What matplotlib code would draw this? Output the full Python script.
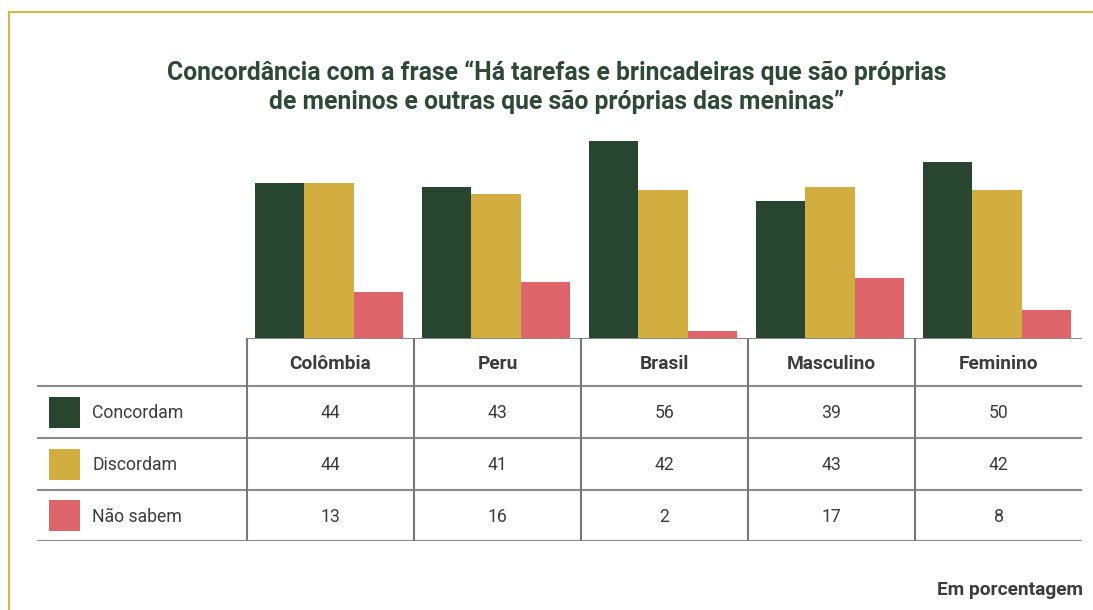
import matplotlib.pyplot as plt
from matplotlib.patches import Rectangle

# Data
categorias = ['Colômbia', 'Peru', 'Brasil', 'Masculino', 'Feminino']
series = ['Concordam', 'Discordam', 'Não sabem']
concordam = [44, 43, 56, 39, 50]
discordam = [44, 41, 42, 43, 42]
nao_sabem = [13, 16, 2, 17, 8]
valores = [concordam, discordam, nao_sabem]
cores = ['#27452f', '#d2ad40', '#de6569']

titulo = 'Concordância com a frase “Há tarefas e brincadeiras que são próprias\nde meninos e outras que são próprias das meninas”'
nota = 'Em porcentagem'

plt.rcParams['font.family'] = ['Roboto', 'DejaVu Sans']

W, H = 1093, 610
fig = plt.figure(figsize=(W / 100, H / 100), dpi=100)

def fx(px):
    return px / W

def fy(py):
    return 1 - py / H

# gold frame (top and left)
fig.add_artist(plt.Line2D([fx(9), 1], [fy(12), fy(12)], color='#d8b64a', lw=1.5))
fig.add_artist(plt.Line2D([fx(9), fx(9)], [fy(12), 0], color='#d8b64a', lw=1.5))

fig.text(fx(557), fy(87), titulo, ha='center', va='center', fontsize=17.8,
         fontweight='bold', color='#2e4a36', linespacing=1.25)

# bar axes
x0, x1 = 247, 1082
base, ymax = 338, 60
px_per_unit = 3.52
top = base - ymax * px_per_unit
ax = fig.add_axes([fx(x0), fy(base), fx(x1) - fx(x0), (base - top) / H])
ax.set_xlim(0, len(categorias))
ax.set_ylim(0, ymax)
ax.axis('off')
bw = 0.296
for j, (vals, cor) in enumerate(zip(valores, cores)):
    xs = [i + 0.49 + (j - 1) * bw for i in range(len(categorias))]
    ax.bar(xs, vals, width=bw, color=cor, linewidth=0)

# table axes (pixel coordinates, y downward from the baseline)
t_left, t_bottom = 37, 541
tab = fig.add_axes([fx(t_left), fy(t_bottom), fx(x1) - fx(t_left), (t_bottom - base) / H])
tab.set_xlim(t_left, x1)
tab.set_ylim(t_bottom, base)
tab.axis('off')

col_w = (x1 - x0) / len(categorias)
row_edges = [base, 386, 438, 490, t_bottom]
line_col = '#8a8a8a'
tab.plot([x0, x1], [base + 0.5, base + 0.5], color=line_col, lw=1.5, solid_capstyle='butt')
for y in row_edges[1:]:
    tab.plot([t_left, x1], [y, y], color=line_col, lw=1.5, solid_capstyle='butt')
for i in range(len(categorias)):
    xv = x0 + i * col_w
    tab.plot([xv, xv], [base, t_bottom + 1], color='#777777', lw=1.5, solid_capstyle='butt')

txt_col = '#3c3c3c'
for i, cat in enumerate(categorias):
    tab.text(x0 + (i + 0.5) * col_w, (row_edges[0] + row_edges[1]) / 2 + 2, cat,
             ha='center', va='center', fontsize=13.8, fontweight='bold', color=txt_col)

for r, (nome, vals, cor) in enumerate(zip(series, valores, cores)):
    yc = (row_edges[r + 1] + row_edges[r + 2]) / 2
    tab.add_patch(Rectangle((49, yc - 15.5), 31, 31, color=cor, lw=0))
    tab.text(92, yc + 1.5, nome, ha='left', va='center', fontsize=12.7, color=txt_col)
    for i, v in enumerate(vals):
        tab.text(x0 + (i + 0.5) * col_w, yc + 1.5, str(v), ha='center', va='center',
                 fontsize=12.7, color=txt_col)

fig.text(fx(1083), fy(590), nota, ha='right', va='center', fontsize=13.8,
         fontweight='bold', color=txt_col)

fig.savefig('out.png', dpi=100)
